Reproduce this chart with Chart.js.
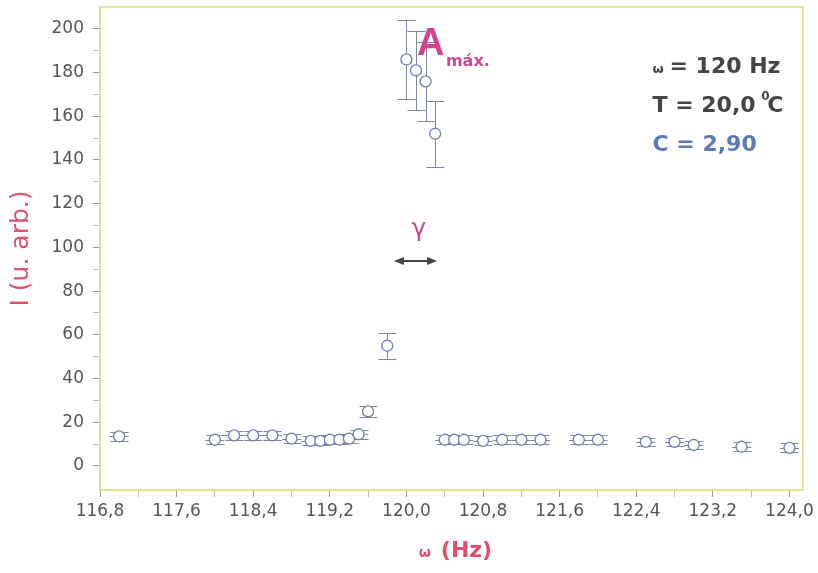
<!DOCTYPE html>
<html>
<head>
<meta charset="utf-8">
<script src="https://cdn.jsdelivr.net/npm/chart.js@4.4.1/dist/chart.umd.min.js"></script>
<style>
  html, body { margin: 0; padding: 0; background: #fff; }
  #wrap { width: 818px; height: 573px; }
</style>
</head>
<body>
<div id="wrap"><canvas id="grafico"></canvas></div>
<script>
// dados
const frequencia = [117.0, 118.0, 118.2, 118.4, 118.6, 118.8, 119.0, 119.1, 119.2, 119.3, 119.4, 119.5, 119.6, 119.8,
  120.0, 120.1, 120.2, 120.3, 120.4, 120.5, 120.6, 120.8, 121.0, 121.2, 121.4, 121.8, 122.0, 122.5, 122.8, 123.0, 123.5, 124.0];
const intensidade = [13.5, 12, 14, 14, 14, 12.5, 11.5, 11.5, 12, 12, 12.5, 14.5, 25, 55,
  186, 181, 176, 152, 12, 12, 12, 11.5, 12, 12, 12, 12, 12, 11, 11, 9.6, 8.8, 8.3];
const erroY = [2, 2, 2, 2, 2, 2, 2, 2, 2, 2, 2, 2, 2.5, 6,
  18, 18, 18, 15, 2, 2, 2, 2, 2, 2, 2, 2, 2, 2, 2, 2, 2, 2];
const erroX = [0.1, 0.1, 0.1, 0.1, 0.1, 0.1, 0.1, 0.1, 0.1, 0.1, 0.1, 0.1, 0, 0,
  0, 0, 0, 0, 0.1, 0.1, 0.1, 0.1, 0.1, 0.1, 0.1, 0.1, 0.1, 0.1, 0.1, 0.1, 0.1, 0.1];

const ticksX = [116.8, 117.6, 118.4, 119.2, 120.0, 120.8, 121.6, 122.4, 123.2, 124.0];
const ticksY = [0, 20, 40, 60, 80, 100, 120, 140, 160, 180, 200];

const corFrame = "#e4dc86";
const corTitulo = "#e0506e";
const corPonto = "#6f7db8";
const fonte = "'DejaVu Sans', 'Liberation Sans', sans-serif";

const pontos = frequencia.map((f, i) => ({ x: f, y: intensidade[i] }));

// barras de erro
const barrasErro = {
  id: "barrasErro",
  beforeDatasetsDraw(chart) {
    const ctx = chart.ctx;
    const sx = chart.scales.x, sy = chart.scales.y;
    ctx.save();
    ctx.strokeStyle = "#80879c";
    ctx.lineWidth = 1;
    pontos.forEach((p, i) => {
      const px = Math.round(sx.getPixelForValue(p.x)) + 0.5;
      const y1 = Math.round(sy.getPixelForValue(p.y + erroY[i])) + 0.5;
      const y2 = Math.round(sy.getPixelForValue(p.y - erroY[i])) + 0.5;
      ctx.beginPath();
      ctx.moveTo(px, y1); ctx.lineTo(px, y2);
      ctx.moveTo(px - 9, y1); ctx.lineTo(px + 9, y1);
      ctx.moveTo(px - 9, y2); ctx.lineTo(px + 9, y2);
      if (erroX[i] > 0) {
        const py = Math.round(sy.getPixelForValue(p.y)) + 0.5;
        ctx.moveTo(sx.getPixelForValue(p.x - erroX[i]), py);
        ctx.lineTo(sx.getPixelForValue(p.x + erroX[i]), py);
      }
      ctx.stroke();
    });
    ctx.restore();
  }
};

// moldura e textos
const moldura = {
  id: "moldura",
  afterDraw(chart) {
    const ctx = chart.ctx;
    const a = chart.chartArea;
    const sx = chart.scales.x, sy = chart.scales.y;
    ctx.save();
    ctx.strokeStyle = corFrame;
    ctx.lineWidth = 1.5;
    ctx.strokeRect(a.left, a.top, a.right - a.left, a.bottom - a.top);

    // A max
    ctx.fillStyle = "#d2448f";
    ctx.textBaseline = "alphabetic";
    ctx.textAlign = "left";
    ctx.font = "bold 38px 'Liberation Sans', Arial, sans-serif";
    const ax = sx.getPixelForValue(120.11), ay = sy.getPixelForValue(188);
    ctx.fillText("A", ax, ay);
    ctx.font = "bold 16px " + fonte;
    ctx.fillText("máx.", ax + 29, ay + 11);

    // gamma
    ctx.fillStyle = "#c8489a";
    ctx.font = "25px " + fonte;
    ctx.textAlign = "center";
    ctx.fillText("γ", sx.getPixelForValue(120.13), sy.getPixelForValue(105));

    // seta dupla
    const xa = sx.getPixelForValue(119.87), xb = sx.getPixelForValue(120.32), ys = sy.getPixelForValue(93.8);
    ctx.strokeStyle = "#444";
    ctx.fillStyle = "#444";
    ctx.lineWidth = 2;
    ctx.beginPath(); ctx.moveTo(xa + 4, ys); ctx.lineTo(xb - 4, ys); ctx.stroke();
    ctx.beginPath(); ctx.moveTo(xa, ys); ctx.lineTo(xa + 10, ys - 4); ctx.lineTo(xa + 10, ys + 4); ctx.fill();
    ctx.beginPath(); ctx.moveTo(xb, ys); ctx.lineTo(xb - 10, ys - 4); ctx.lineTo(xb - 10, ys + 4); ctx.fill();

    // parametros
    ctx.textAlign = "left";
    ctx.fillStyle = "#454545";
    const tx = sx.getPixelForValue(122.57);
    ctx.font = "bold 13px " + fonte;
    ctx.fillText("ω", tx, sy.getPixelForValue(180));
    ctx.font = "bold 22px " + fonte;
    ctx.fillText("= 120 Hz", tx + 17, sy.getPixelForValue(180));
    ctx.fillText("T = 20,0 ", tx, sy.getPixelForValue(162));
    const w = ctx.measureText("T = 20,0 ").width;
    ctx.font = "bold 12px " + fonte;
    ctx.fillText("0", tx + w - 2, sy.getPixelForValue(167.5));
    ctx.font = "bold 22px " + fonte;
    ctx.fillText("C", tx + w + 4, sy.getPixelForValue(162));
    ctx.fillStyle = "#5a7ab8";
    ctx.fillText("C = 2,90", tx, sy.getPixelForValue(144));

    // titulo do eixo x
    ctx.fillStyle = corTitulo;
    const cx = (a.left + a.right) / 2 + 4;
    ctx.font = "bold 22px " + fonte;
    const wh = ctx.measureText("(Hz)").width;
    ctx.font = "bold 14px " + fonte;
    const ww = ctx.measureText("ω").width;
    const x0 = cx - (ww + 10 + wh) / 2;
    ctx.fillText("ω", x0, 557);
    ctx.font = "bold 22px " + fonte;
    ctx.fillText("(Hz)", x0 + ww + 10, 557);
    ctx.restore();
  }
};

const fonteTick = { family: fonte, size: 17 };

new Chart(document.getElementById("grafico"), {
  type: "scatter",
  data: {
    datasets: [{
      data: pontos,
      pointStyle: "circle",
      pointRadius: 5.5,
      pointBorderWidth: 1.3,
      borderColor: corPonto,
      backgroundColor: "#ffffff",
      showLine: false
    }]
  },
  options: {
    responsive: true,
    maintainAspectRatio: false,
    animation: false,
    layout: { padding: { top: 7, right: 12, left: 0, bottom: 0 } },
    plugins: { legend: { display: false }, tooltip: { enabled: false } },
    scales: {
      x: {
        type: "linear",
        min: 116.8,
        max: 124.14,
        afterBuildTicks(scale) {
          const t = [];
          ticksX.forEach((v, i) => {
            t.push({ value: v });
            if (i < ticksX.length - 1) t.push({ value: +(v + 0.4).toFixed(1) });
          });
          scale.ticks = t;
        },
        afterFit(scale) { scale.height = 83; },
        ticks: {
          autoSkip: false,
          maxRotation: 0,
          color: "#555",
          font: fonteTick,
          padding: 4,
          callback: (v) => ticksX.some(t => Math.abs(t - v) < 1e-6) ? v.toFixed(1).replace(".", ",") : ""
        },
        grid: {
          drawOnChartArea: false,
          tickLength: 7,
          color: (c) => ticksX.some(t => Math.abs(t - c.tick.value) < 1e-6) ? "#999" : "#bbb",
          tickWidth: 1
        },
        border: { color: corFrame, width: 1.5 },
        title: { display: false }
      },
      y: {
        type: "linear",
        min: -11,
        max: 210,
        afterBuildTicks(scale) {
          const t = [];
          ticksY.forEach((v, i) => {
            t.push({ value: v });
            if (i < ticksY.length - 1) t.push({ value: v + 10 });
          });
          scale.ticks = t;
        },
        afterFit(scale) {
          scale.width = 100;
          scale.paddingTop = 0;
          scale.paddingBottom = 0;
        },
        ticks: {
          autoSkip: false,
          color: "#555",
          font: fonteTick,
          padding: 9,
          callback: (v) => ticksY.includes(v) ? String(v) : ""
        },
        grid: {
          drawOnChartArea: false,
          tickLength: 7,
          color: (c) => ticksY.includes(c.tick.value) ? "#999" : "#bbb",
          tickWidth: 1
        },
        border: { color: corFrame, width: 1.5 },
        title: {
          display: true,
          text: "I (u. arb.)",
          color: corTitulo,
          font: { family: fonte, size: 25 },
          padding: { top: 6, bottom: 0 }
        }
      }
    }
  },
  plugins: [barrasErro, moldura]
});
</script>
</body>
</html>
